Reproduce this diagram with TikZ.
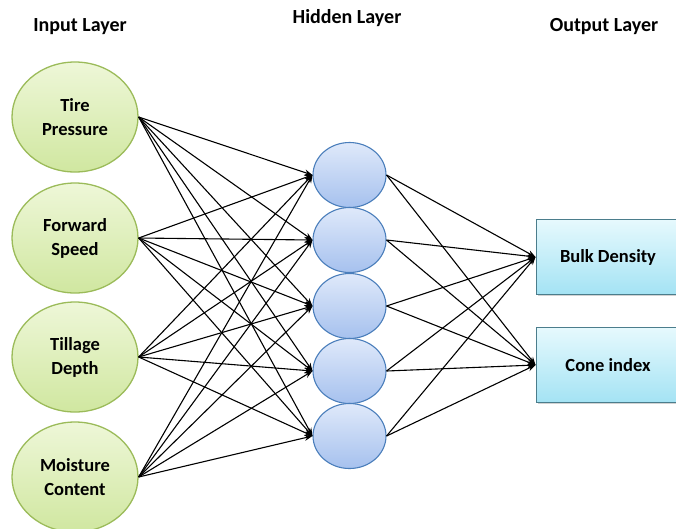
\documentclass[tikz,border=0pt]{standalone}
\usepackage{fontspec}
\setmainfont{Carlito}
\usetikzlibrary{shapes.geometric,arrows.meta,shadows}
\definecolor{inptop}{HTML}{EEF7D8}
\definecolor{inpbot}{HTML}{D0E7A0}
\definecolor{inpborder}{HTML}{9BBB59}
\definecolor{hidtop}{HTML}{DFE9FA}
\definecolor{hidbot}{HTML}{A6C1EE}
\definecolor{hidborder}{HTML}{4A7EBB}
\definecolor{outtop}{HTML}{E6F9FD}
\definecolor{outbot}{HTML}{A4E3F4}
\definecolor{outborder}{HTML}{4B7D8C}
\begin{document}
\begin{tikzpicture}[x=1pt,y=-1pt,
  inp/.style={ellipse, draw=inpborder, line width=1.3pt, top color=inptop, bottom color=inpbot,
    minimum width=126pt, minimum height=110pt, inner sep=0pt, align=center,
    font=\bfseries\fontsize{18.5}{24}\selectfont},
  hid/.style={ellipse, draw=hidborder, line width=1.1pt, top color=hidtop, bottom color=hidbot,
    minimum width=73pt, minimum height=65pt, inner sep=0pt},
  outb/.style={rectangle, draw=outborder, line width=1pt, top color=outtop, bottom color=outbot,
    minimum width=144pt, minimum height=75pt, inner sep=0pt,
    drop shadow={shadow xshift=1.5pt, shadow yshift=-1.5pt, opacity=0.35},
    font=\bfseries\fontsize{18.5}{20}\selectfont},
  conn/.style={-{Stealth[length=8pt,width=6pt]}, line width=1.1pt, black},
  hdr/.style={font=\bfseries\fontsize{20}{22}\selectfont, inner sep=0pt}]
\useasboundingbox (0,0) rectangle (676,528);
\fill[white] (0,0) rectangle (676,528);

\node[hdr] (h1) at (80,27) {Input Layer};
\node[hdr] (h2) at (347,18) {Hidden Layer};
\node[hdr] (h3) at (604,27) {Output Layer};

\node[inp] (i1) at (75,117) {Tire\\Pressure};
\node[inp] (i2) at (75,238) {Forward\\Speed};
\node[inp] (i3) at (75,357) {Tillage\\Depth};
\node[inp] (i4) at (75,477) {Moisture\\Content};

\node[hid] (n1) at (349.5,175) {};
\node[hid] (n2) at (349.5,240) {};
\node[hid] (n3) at (349.5,306) {};
\node[hid] (n4) at (349.5,371) {};
\node[hid] (n5) at (349.5,436) {};

\node[outb] (o1) at (608,257) {Bulk Density};
\node[outb] (o2) at (608,365) {Cone index};

\foreach \i in {1,2,3,4}{
  \foreach \j in {1,2,3,4,5}{
    \draw[conn] (i\i.east) -- (n\j.west);
  }
}
\foreach \j in {1,2,3,4,5}{
  \foreach \k in {1,2}{
    \draw[conn] (n\j.east) -- (o\k.west);
  }
}
\end{tikzpicture}
\end{document}
